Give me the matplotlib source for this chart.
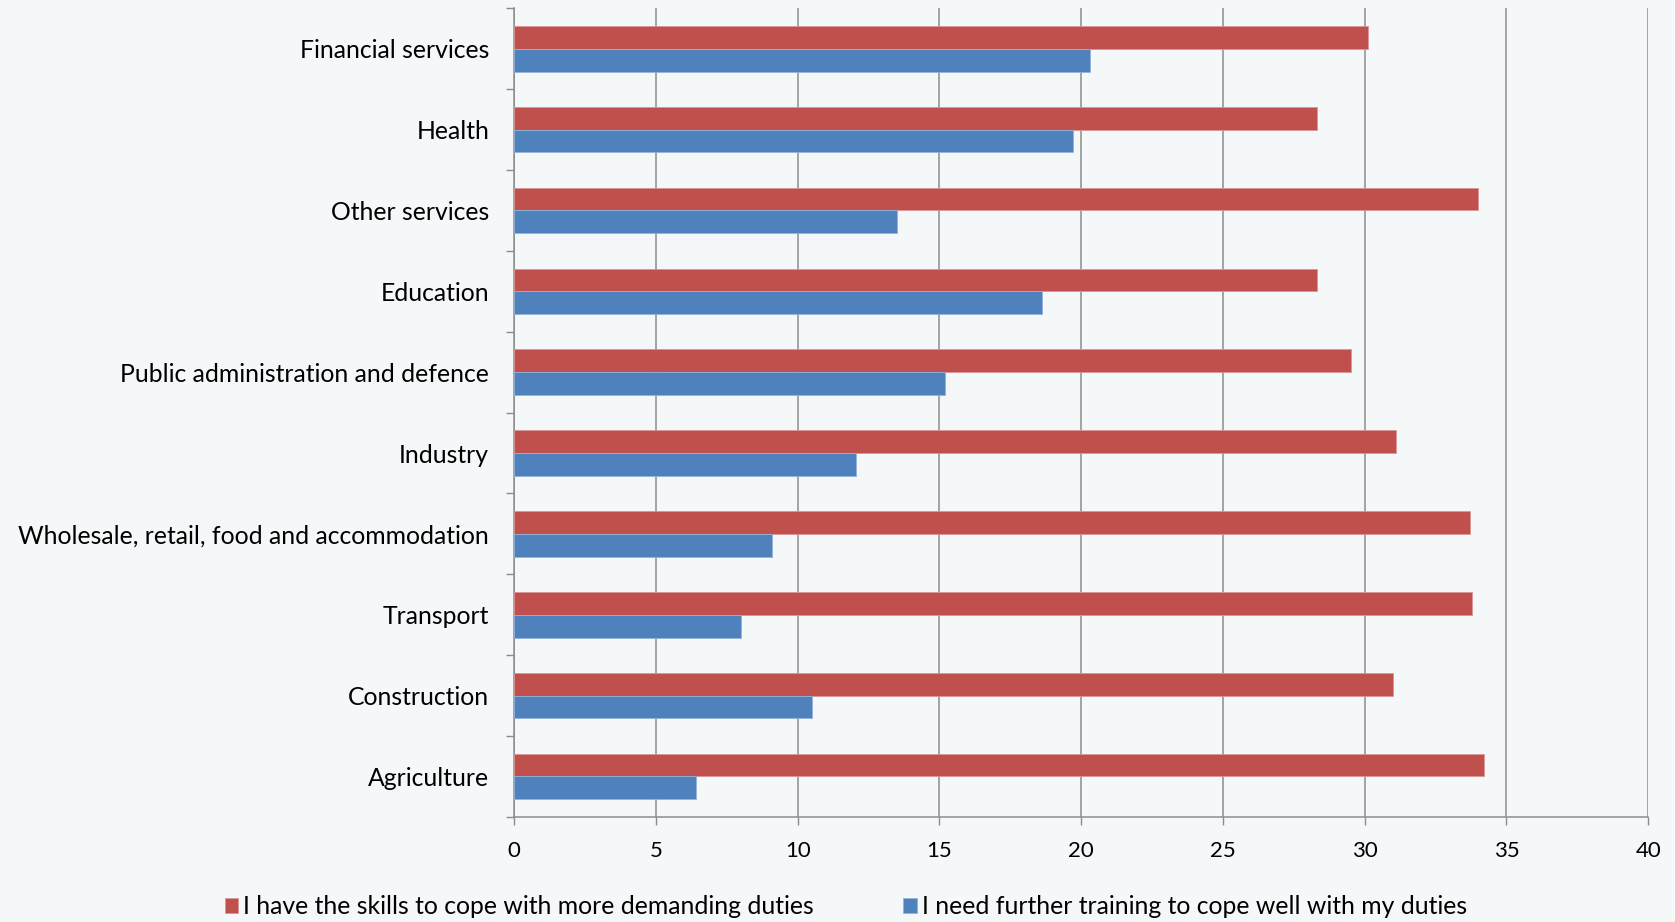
import numpy as np
import matplotlib
matplotlib.use('Agg')
import matplotlib.pyplot as plt

# Categories listed bottom to top
sectors = ['Agriculture', 'Construction', 'Transport',
           'Wholesale, retail, food and accommodation', 'Industry',
           'Public administration and defence', 'Education',
           'Other services', 'Health', 'Financial services']
skills = [34.2, 31.0, 33.8, 33.7, 31.1, 29.5, 28.3, 34.0, 28.3, 30.1]
training = [6.4, 10.5, 8.0, 9.1, 12.05, 15.2, 18.6, 13.5, 19.7, 20.3]
skills_label = 'I have the skills to cope with more demanding duties'
training_label = 'I need further training to cope well with my duties'
xticks = [0, 5, 10, 15, 20, 25, 30, 35, 40]

red = '#C0504D'
blue = '#4F81BD'
bg = '#F4F8F9'
grid_c = '#8C8C8C'

plt.rcParams['font.family'] = ['Lato', 'DejaVu Sans']

fig = plt.figure(figsize=(16.75, 9.22), dpi=100, facecolor=bg)
ax = fig.add_axes([0.307, 0.114, 0.677, 0.877], facecolor=bg)

y = np.arange(len(sectors))
h = 0.282
ax.barh(y + h / 2, skills, height=h, color=red, edgecolor='#D99694',
        linewidth=0.6, label=skills_label, zorder=3)
ax.barh(y - h / 2, training, height=h, color=blue, edgecolor='#95B3D7',
        linewidth=0.6, label=training_label, zorder=3)

ax.set_xlim(0, 40)
ax.set_ylim(-0.5, len(sectors) - 0.5)
ax.set_xticks(xticks)
ax.set_xticklabels([str(t) for t in xticks], fontsize=16)
ax.set_yticks(y)
ax.set_yticklabels(sectors, fontsize=17.8)
ax.set_yticks(np.arange(-0.5, len(sectors)), minor=True)
ax.tick_params(axis='y', which='major', length=0, pad=18)
ax.tick_params(axis='y', which='minor', length=6, color=grid_c, width=1)
ax.tick_params(axis='x', length=6, color=grid_c, width=1, pad=11)

ax.grid(axis='x', color=grid_c, linewidth=1.1, zorder=0)
for s in ['top', 'right']:
    ax.spines[s].set_visible(False)
for s in ['left', 'bottom']:
    ax.spines[s].set_color(grid_c)
    ax.spines[s].set_linewidth(1.1)

leg = fig.legend(loc='lower center', bbox_to_anchor=(0.505, -0.02), ncol=2,
                 frameon=False, fontsize=17.8, handlelength=0.55,
                 handleheight=0.55, handletextpad=0.2, columnspacing=3.6)

fig.savefig('out.png', dpi=100, facecolor=bg)
